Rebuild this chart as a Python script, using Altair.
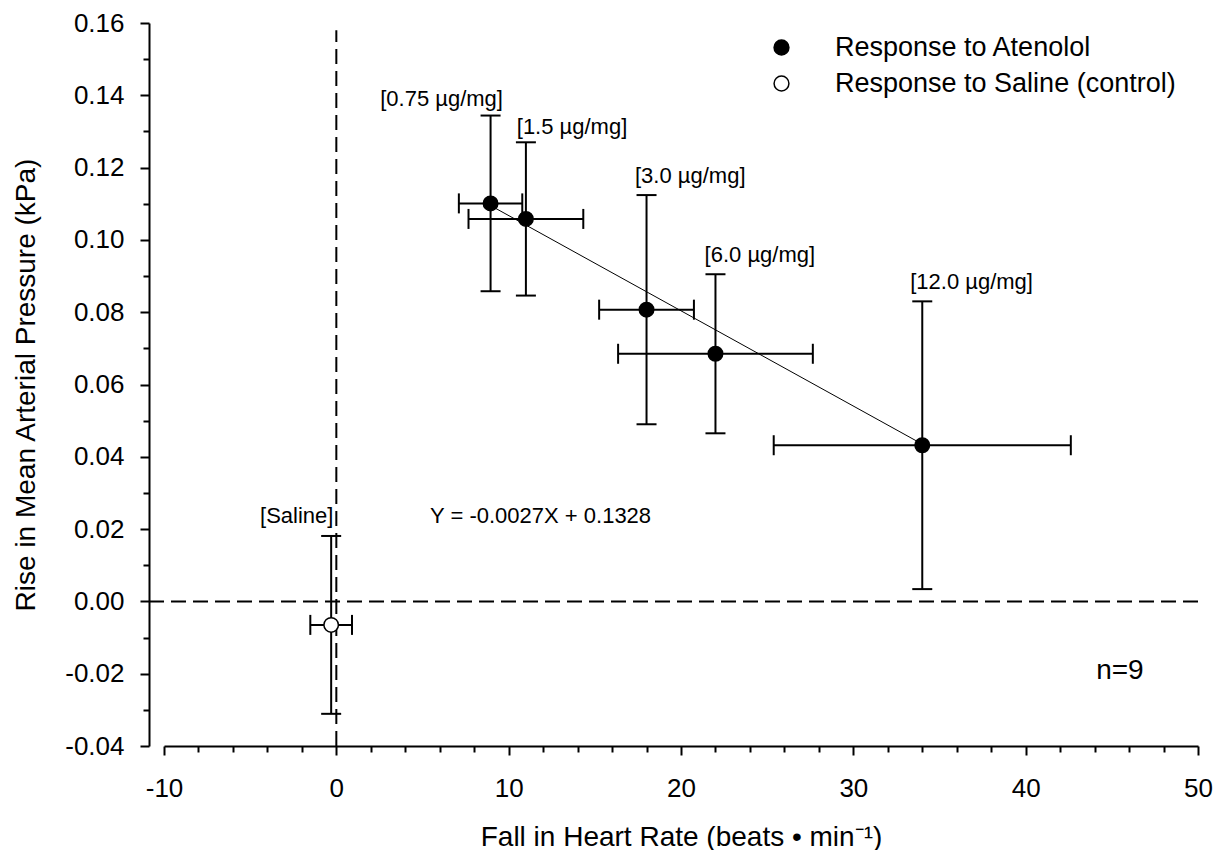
import altair as alt
import pandas as pd

FONT = "Liberation Sans"

groups = ["Response to Atenolol", "Response to Saline (control)"]

# Atenolol responses (mean ± error)
dose_labels = ["[0.75 µg/mg]", "[1.5 µg/mg]", "[3.0 µg/mg]", "[6.0 µg/mg]", "[12.0 µg/mg]"]
aten_hr = [8.95, 11.0, 18.0, 22.0, 34.0]
aten_hr_err = [1.84, 3.33, 2.75, 5.65, 8.62]
aten_map = [0.1101, 0.1058, 0.0807, 0.0685, 0.0432]
aten_map_err = [0.0243, 0.0212, 0.0317, 0.0220, 0.0398]

# Saline control
saline_hr = [-0.3]
saline_hr_err = [1.21]
saline_map = [-0.0065]
saline_map_err = [0.0246]

# Fitted regression line end points
fit_hr = [8.95, 34.0]
fit_map = [0.1095, 0.0435]

# label anchor positions (data units)
left_labels = ["[1.5 µg/mg]", "[3.0 µg/mg]", "[6.0 µg/mg]", "[12.0 µg/mg]"]
left_lx = [10.47, 17.33, 21.37, 33.30]
left_ly = [0.1311, 0.1178, 0.0957, 0.0884]
right_labels = ["[0.75 µg/mg]", "[Saline]"]
right_lx = [9.67, -0.17]
right_ly = [0.1389, 0.0236]

eq_text = ["Y = -0.0027X + 0.1328"]
eq_x = [5.44]
eq_y = [0.0236]
n_text = ["n=9"]
n_x = [44.09]
n_y = [-0.0192]

# dashed zero reference lines
vline_x = [0]
vline_y = [-0.04]
vline_y2 = [0.158]
hline_y = [0]
hline_x = [-10.87]
hline_x2 = [50]

x_ticks = list(range(-10, 51, 2))
y_ticks = [round(-0.04 + 0.01 * i, 2) for i in range(21)]

xscale = alt.Scale(domain=[-10, 50], nice=False, zero=False)
yscale = alt.Scale(domain=[-0.04, 0.16], nice=False, zero=False)

x_axis = alt.Axis(
    values=x_ticks,
    labelExpr="datum.value % 10 === 0 ? (datum.value < 0 ? '-' : '') + abs(datum.value) : ''",
    tickSize={"condition": {"test": "datum.value % 10 === 0", "value": 9}, "value": 6},
    title="Fall in Heart Rate (beats • min⁻¹)",
    labelFontSize=26, titleFontSize=28, labelPadding=20, titlePadding=22,
    labelOverlap=False, labelFlush=False,
)
y_axis = alt.Axis(
    values=y_ticks,
    labelExpr="abs(round(datum.value*100)) % 2 === 0 ? (datum.value < -0.0001 ? '-' : '') + format(abs(datum.value), '.2f') : ''",
    tickSize={"condition": {"test": "abs(round(datum.value*100)) % 2 === 0", "value": 9}, "value": 6},
    title="Rise in Mean Arterial Pressure (kPa)",
    labelFontSize=26, titleFontSize=28, labelPadding=16, titlePadding=24,
    offset=15, labelOverlap=False, labelFlush=False,
)


def X(field):
    return alt.X(field, scale=xscale, axis=x_axis)


def Y(field):
    return alt.Y(field, scale=yscale, axis=y_axis)


pts = pd.DataFrame({
    "hr": aten_hr + saline_hr,
    "hr_err": aten_hr_err + saline_hr_err,
    "map": aten_map + saline_map,
    "map_err": aten_map_err + saline_map_err,
    "group": [groups[0]] * len(aten_hr) + [groups[1]] * len(saline_hr),
})

base = alt.Chart(pts).transform_calculate(
    hr_lo="datum.hr - datum.hr_err",
    hr_hi="datum.hr + datum.hr_err",
    map_lo="datum.map - datum.map_err",
    map_hi="datum.map + datum.map_err",
)

vline = alt.Chart(pd.DataFrame({"x": vline_x, "y": vline_y, "y2": vline_y2})).mark_rule(
    color="black", strokeWidth=2, strokeDash=[15, 7]
).encode(x=X("x:Q"), y=Y("y:Q"), y2="y2:Q")

hline = alt.Chart(pd.DataFrame({"y": hline_y, "x": hline_x, "x2": hline_x2})).mark_rule(
    color="black", strokeWidth=2, strokeDash=[15, 7]
).encode(x=X("x:Q"), x2="x2:Q", y=Y("y:Q"))

fit = alt.Chart(pd.DataFrame({"x": fit_hr, "y": fit_map})).mark_line(
    color="black", strokeWidth=1
).encode(x=X("x:Q"), y=Y("y:Q"))

vbar = base.mark_rule(color="black", strokeWidth=2).encode(
    x=X("hr:Q"), y=Y("map_lo:Q"), y2="map_hi:Q")
hbar = base.mark_rule(color="black", strokeWidth=2).encode(
    x=X("hr_lo:Q"), x2="hr_hi:Q", y=Y("map:Q"))
cap_top = base.mark_tick(color="black", orient="horizontal", size=20, thickness=2, opacity=1).encode(
    x=X("hr:Q"), y=Y("map_hi:Q"))
cap_bot = base.mark_tick(color="black", orient="horizontal", size=20, thickness=2, opacity=1).encode(
    x=X("hr:Q"), y=Y("map_lo:Q"))
cap_left = base.mark_tick(color="black", orient="vertical", size=20, thickness=2, opacity=1).encode(
    x=X("hr_lo:Q"), y=Y("map:Q"))
cap_right = base.mark_tick(color="black", orient="vertical", size=20, thickness=2, opacity=1).encode(
    x=X("hr_hi:Q"), y=Y("map:Q"))

points = base.mark_point(
    shape="circle", filled=True, stroke="black", strokeWidth=1.5, size=210, opacity=1
).encode(
    x=X("hr:Q"),
    y=Y("map:Q"),
    fill=alt.Fill(
        "group:N",
        scale=alt.Scale(domain=groups, range=["black", "white"]),
        legend=alt.Legend(
            title=None, orient="none", legendX=604, legendY=11,
            labelFontSize=27, labelFont=FONT, labelColor="black", labelLimit=0,
            symbolType="circle", symbolSize=220, symbolStrokeColor="black",
            symbolStrokeWidth=1.5, labelOffset=40, rowPadding=8,
        ),
    ),
)


def text_layer(xs, ys, ts, align, size):
    return alt.Chart(pd.DataFrame({"x": xs, "y": ys, "t": ts})).mark_text(
        align=align, baseline="middle", fontSize=size, font=FONT, color="black"
    ).encode(x=X("x:Q"), y=Y("y:Q"), text="t:N")


lab_left = text_layer(left_lx, left_ly, left_labels, "left", 22)
lab_right = text_layer(right_lx, right_ly, right_labels, "right", 22)
eq = text_layer(eq_x, eq_y, eq_text, "left", 22)
ntext = text_layer(n_x, n_y, n_text, "left", 28)

chart = alt.layer(
    vline, hline, fit, vbar, hbar, cap_top, cap_bot, cap_left, cap_right,
    points, lab_left, lab_right, eq, ntext,
).properties(
    width=1034, height=723,
    autosize=alt.AutoSizeParams(type="none"),
    padding={"left": 156, "top": 15, "right": 16, "bottom": 104},
).configure_view(stroke=None).configure_axis(
    grid=False, domainColor="black", domainWidth=2, tickColor="black", tickWidth=2,
    labelFont=FONT, titleFont=FONT, labelColor="black", titleColor="black",
    titleFontWeight="normal",
)

chart.save("out.html", embed_options={"renderer": "svg", "actions": False})
